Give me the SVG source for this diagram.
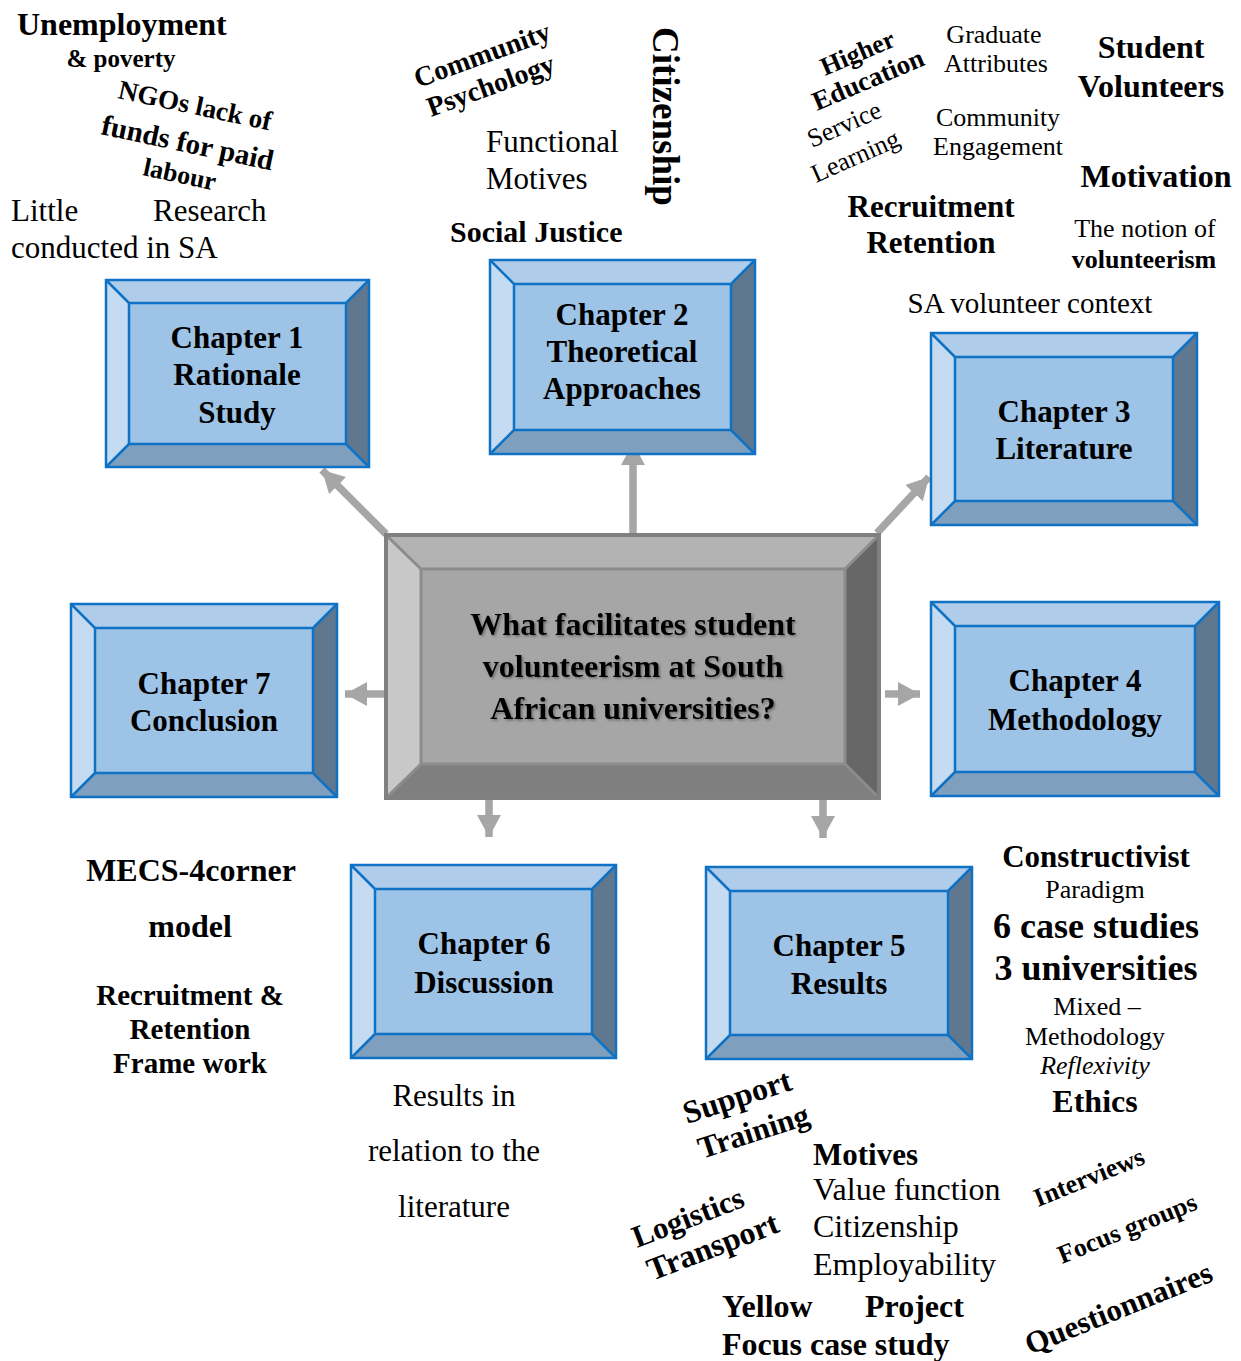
<svg xmlns="http://www.w3.org/2000/svg" width="1241" height="1361" viewBox="0 0 1241 1361">
<defs>
<style>
text{font-family:"Liberation Serif","Times New Roman",serif;fill:#000}
.b{font-weight:bold}
.i{font-style:italic}
.m{text-anchor:middle}
.bt{fill:#afcdea}.bl{fill:#c5dbf1}.br{fill:#5f7890}.bb{fill:#7f9fbf}.bf{fill:#9dc3e6}
.bo{fill:none;stroke:#0f72c4;stroke-width:2.5;stroke-linejoin:miter}
.gt{fill:#b3b3b3}.gl{fill:#c8c8c8}.gr{fill:#666666}.gb{fill:#7f7f7f}.gf{fill:#a6a6a6}
.go{fill:none;stroke:#808080;stroke-width:4}
.gi{fill:none;stroke:#8c8c8c;stroke-width:3}
.ar{stroke:#a6a6a6;stroke-width:7.5;fill:none}
.ch{font-weight:bold;font-size:31px;text-anchor:middle}
</style>
<marker id="ah" markerUnits="userSpaceOnUse" markerWidth="24" markerHeight="24" viewBox="0 0 24 24" refX="22" refY="12" orient="auto">
<path d="M0,0 L22,12 L0,24 Z" fill="#a6a6a6"/>
</marker>
<filter id="sh" x="-10%" y="-20%" width="120%" height="140%">
<feDropShadow dx="1.5" dy="1.5" stdDeviation="1.2" flood-color="#444" flood-opacity="0.6"/>
</filter>
</defs>
<rect width="1241" height="1361" fill="#fff"/>

<g id="connectors">
<line class="ar" x1="386" y1="534" x2="322" y2="470" marker-end="url(#ah)"/>
<line class="ar" x1="633" y1="538" x2="633" y2="443" marker-end="url(#ah)"/>
<line class="ar" x1="877" y1="533" x2="929" y2="477" marker-end="url(#ah)"/>
<line class="ar" x1="384" y1="694" x2="345" y2="694" marker-end="url(#ah)"/>
<line class="ar" x1="885" y1="694" x2="920" y2="694" marker-end="url(#ah)"/>
<line class="ar" x1="489" y1="792" x2="489" y2="837" marker-end="url(#ah)"/>
<line class="ar" x1="823" y1="796" x2="823" y2="838" marker-end="url(#ah)"/>
</g>

<g id="center">
<polygon class="gt" points="386,535 879,535 845,569 421,569"/>
<polygon class="gl" points="386,535 421,569 421,764 386,798"/>
<polygon class="gr" points="879,535 879,798 845,764 845,569"/>
<polygon class="gb" points="386,798 421,764 845,764 879,798"/>
<rect class="gf" x="421" y="569" width="424" height="195"/>
<path class="gi" d="M421,569 H845 V764 H421 Z M386,535 L421,569 M879,535 L845,569 M386,798 L421,764 M879,798 L845,764"/>
<rect class="go" x="386" y="535" width="493" height="263"/>
<g filter="url(#sh)">
<text class="b m" x="633" y="635" font-size="32">What facilitates student</text>
<text class="b m" x="633" y="677" font-size="32">volunteerism at South</text>
<text class="b m" x="633" y="719" font-size="32">African universities?</text>
</g>
</g>

<g id="ch1">
<polygon class="bt" points="106,280 369,280 346,303 129,303"/>
<polygon class="bl" points="106,280 129,303 129,444 106,467"/>
<polygon class="br" points="369,280 369,467 346,444 346,303"/>
<polygon class="bb" points="106,467 129,444 346,444 369,467"/>
<rect class="bf" x="129" y="303" width="217" height="141"/>
<path class="bo" d="M106,280 H369 V467 H106 Z M129,303 H346 V444 H129 Z M106,280 L129,303 M369,280 L346,303 M106,467 L129,444 M369,467 L346,444"/>
<text class="ch" x="237" y="348">Chapter 1</text>
<text class="ch" x="237" y="385">Rationale</text>
<text class="ch" x="237" y="423">Study</text>
</g>

<g id="ch2">
<polygon class="bt" points="490,260 755,260 731,284 514,284"/>
<polygon class="bl" points="490,260 514,284 514,430 490,454"/>
<polygon class="br" points="755,260 755,454 731,430 731,284"/>
<polygon class="bb" points="490,454 514,430 731,430 755,454"/>
<rect class="bf" x="514" y="284" width="217" height="146"/>
<path class="bo" d="M490,260 H755 V454 H490 Z M514,284 H731 V430 H514 Z M490,260 L514,284 M755,260 L731,284 M490,454 L514,430 M755,454 L731,430"/>
<text class="ch" x="622" y="325">Chapter 2</text>
<text class="ch" x="622" y="362">Theoretical</text>
<text class="ch" x="622" y="399">Approaches</text>
</g>

<g id="ch3">
<polygon class="bt" points="931,333 1197,333 1173,357 955,357"/>
<polygon class="bl" points="931,333 955,357 955,501 931,525"/>
<polygon class="br" points="1197,333 1197,525 1173,501 1173,357"/>
<polygon class="bb" points="931,525 955,501 1173,501 1197,525"/>
<rect class="bf" x="955" y="357" width="218" height="144"/>
<path class="bo" d="M931,333 H1197 V525 H931 Z M955,357 H1173 V501 H955 Z M931,333 L955,357 M1197,333 L1173,357 M931,525 L955,501 M1197,525 L1173,501"/>
<text class="ch" x="1064" y="422">Chapter 3</text>
<text class="ch" x="1064" y="459">Literature</text>
</g>

<g id="ch4">
<polygon class="bt" points="931,602 1219,602 1195,626 955,626"/>
<polygon class="bl" points="931,602 955,626 955,772 931,796"/>
<polygon class="br" points="1219,602 1219,796 1195,772 1195,626"/>
<polygon class="bb" points="931,796 955,772 1195,772 1219,796"/>
<rect class="bf" x="955" y="626" width="240" height="146"/>
<path class="bo" d="M931,602 H1219 V796 H931 Z M955,626 H1195 V772 H955 Z M931,602 L955,626 M1219,602 L1195,626 M931,796 L955,772 M1219,796 L1195,772"/>
<text class="ch" x="1075" y="691">Chapter 4</text>
<text class="ch" x="1075" y="730">Methodology</text>
</g>

<g id="ch7">
<polygon class="bt" points="71,604 337,604 313,628 95,628"/>
<polygon class="bl" points="71,604 95,628 95,773 71,797"/>
<polygon class="br" points="337,604 337,797 313,773 313,628"/>
<polygon class="bb" points="71,797 95,773 313,773 337,797"/>
<rect class="bf" x="95" y="628" width="218" height="145"/>
<path class="bo" d="M71,604 H337 V797 H71 Z M95,628 H313 V773 H95 Z M71,604 L95,628 M337,604 L313,628 M71,797 L95,773 M337,797 L313,773"/>
<text class="ch" x="204" y="694">Chapter 7</text>
<text class="ch" x="204" y="731">Conclusion</text>
</g>

<g id="ch6">
<polygon class="bt" points="351,865 616,865 592,889 375,889"/>
<polygon class="bl" points="351,865 375,889 375,1034 351,1058"/>
<polygon class="br" points="616,865 616,1058 592,1034 592,889"/>
<polygon class="bb" points="351,1058 375,1034 592,1034 616,1058"/>
<rect class="bf" x="375" y="889" width="217" height="145"/>
<path class="bo" d="M351,865 H616 V1058 H351 Z M375,889 H592 V1034 H375 Z M351,865 L375,889 M616,865 L592,889 M351,1058 L375,1034 M616,1058 L592,1034"/>
<text class="ch" x="484" y="954">Chapter 6</text>
<text class="ch" x="484" y="993">Discussion</text>
</g>

<g id="ch5">
<polygon class="bt" points="706,867 972,867 948,891 730,891"/>
<polygon class="bl" points="706,867 730,891 730,1035 706,1059"/>
<polygon class="br" points="972,867 972,1059 948,1035 948,891"/>
<polygon class="bb" points="706,1059 730,1035 948,1035 972,1059"/>
<rect class="bf" x="730" y="891" width="218" height="144"/>
<path class="bo" d="M706,867 H972 V1059 H706 Z M730,891 H948 V1035 H730 Z M706,867 L730,891 M972,867 L948,891 M706,1059 L730,1035 M972,1059 L948,1035"/>
<text class="ch" x="839" y="956">Chapter 5</text>
<text class="ch" x="839" y="994">Results</text>
</g>

<g id="labels-ch1">
<text class="b" x="17" y="35" font-size="32">Unemployment</text>
<text class="b m" x="121" y="67" font-size="25">&amp; poverty</text>
<text class="b" transform="translate(117,98) rotate(12)" font-size="27">NGOs lack of</text>
<text class="b" transform="translate(100,134) rotate(12)" font-size="29">funds for paid</text>
<text class="b" transform="translate(142,175) rotate(12)" font-size="26">labour</text>
<text x="11" y="221" font-size="31">Little</text>
<text x="153" y="221" font-size="31">Research</text>
<text x="11" y="258" font-size="31">conducted in SA</text>
</g>

<g id="labels-ch2">
<text class="b" transform="translate(418,88) rotate(-20)" font-size="28">Community</text>
<text class="b" transform="translate(431,117) rotate(-20)" font-size="28">Psychology</text>
<text x="486" y="152" font-size="31">Functional</text>
<text x="486" y="189" font-size="31">Motives</text>
<text class="b" transform="translate(653,27) rotate(90)" font-size="37">Citizenship</text>
<text class="b" x="450" y="242" font-size="30">Social Justice</text>
</g>

<g id="labels-ch3">
<text class="b" transform="translate(825,76) rotate(-23)" font-size="26">Higher</text>
<text class="b" transform="translate(817,111) rotate(-23)" font-size="27">Education</text>
<text transform="translate(812,148) rotate(-24)" font-size="26">Service</text>
<text transform="translate(816,183) rotate(-24)" font-size="26">Learning</text>
<text class="m" x="994" y="43" font-size="26">Graduate</text>
<text class="m" x="996" y="72" font-size="26">Attributes</text>
<text class="m" x="998" y="126" font-size="26">Community</text>
<text class="m" x="998" y="155" font-size="26">Engagement</text>
<text class="b m" x="1151" y="58" font-size="32">Student</text>
<text class="b m" x="1151" y="97" font-size="32">Volunteers</text>
<text class="b m" x="1156" y="187" font-size="32">Motivation</text>
<text class="b m" x="931" y="217" font-size="31">Recruitment</text>
<text class="b m" x="931" y="253" font-size="31">Retention</text>
<text class="m" x="1145" y="237" font-size="26">The notion of</text>
<text class="b m" x="1144" y="268" font-size="26">volunteerism</text>
<text class="m" x="1030" y="313" font-size="29">SA volunteer context</text>
</g>

<g id="labels-ch7">
<text class="b m" x="191" y="881" font-size="32">MECS-4corner</text>
<text class="b m" x="190" y="937" font-size="32">model</text>
<text class="b m" x="190" y="1005" font-size="29">Recruitment &amp;</text>
<text class="b m" x="190" y="1039" font-size="29">Retention</text>
<text class="b m" x="190" y="1073" font-size="29">Frame work</text>
</g>

<g id="labels-ch6">
<text class="m" x="454" y="1106" font-size="31">Results in</text>
<text class="m" x="454" y="1161" font-size="31">relation to the</text>
<text class="m" x="454" y="1217" font-size="31">literature</text>
</g>

<g id="labels-ch4">
<text class="b m" x="1096" y="867" font-size="31">Constructivist</text>
<text class="m" x="1095" y="898" font-size="26">Paradigm</text>
<text class="b m" x="1096" y="938" font-size="36">6 case studies</text>
<text class="b m" x="1096" y="980" font-size="36">3 universities</text>
<text class="m" x="1097" y="1015" font-size="26">Mixed –</text>
<text class="m" x="1095" y="1045" font-size="26">Methodology</text>
<text class="i m" x="1095" y="1074" font-size="26">Reflexivity</text>
<text class="b m" x="1095" y="1112" font-size="32">Ethics</text>
</g>

<g id="labels-ch5">
<text class="b" transform="translate(687,1124) rotate(-18)" font-size="32">Support</text>
<text class="b" transform="translate(702,1159) rotate(-18)" font-size="31">Training</text>
<text class="b" x="813" y="1165" font-size="31">Motives</text>
<text x="813" y="1200" font-size="32">Value function</text>
<text x="813" y="1237" font-size="32">Citizenship</text>
<text x="813" y="1275" font-size="32">Employability</text>
<text class="b" transform="translate(637,1248) rotate(-21)" font-size="31">Logistics</text>
<text class="b" transform="translate(652,1281) rotate(-21)" font-size="32">Transport</text>
<text class="b" x="722" y="1317" font-size="32">Yellow</text>
<text class="b" x="865" y="1317" font-size="32">Project</text>
<text class="b" x="722" y="1355" font-size="32">Focus case study</text>
<text class="b" transform="translate(1038,1207) rotate(-22)" font-size="26">Interviews</text>
<text class="b" transform="translate(1062,1264) rotate(-22)" font-size="26">Focus groups</text>
<text class="b" transform="translate(1030,1355) rotate(-22)" font-size="31">Questionnaires</text>
</g>
</svg>
